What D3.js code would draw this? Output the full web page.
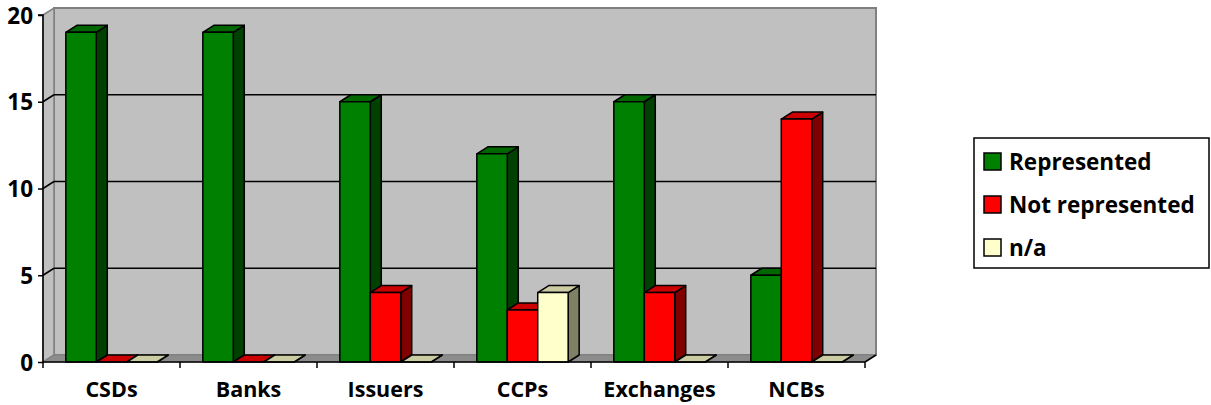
<!DOCTYPE html>
<html>
<head>
<meta charset="utf-8">
<script src="https://cdn.jsdelivr.net/npm/d3@7/dist/d3.min.js"></script>
<style>
  html, body { margin: 0; padding: 0; background: #fff; }
  svg { display: block; }
  text { font-family: "Open Sans", "Lato", sans-serif; font-weight: 700; fill: #000; }
</style>
</head>
<body>
<svg id="chart" width="1211" height="405"></svg>
<script>
const categories = ["CSDs", "Banks", "Issuers", "CCPs", "Exchanges", "NCBs"];
const seriesNames = ["Represented", "Not represented", "n/a"];
const represented = [19, 19, 15, 12, 15, 5];
const notRepresented = [0, 0, 4, 3, 4, 14];
const na = [0, 0, 0, 4, 0, 0];
const yTicks = [0, 5, 10, 15, 20];

(function () {
const seriesValues = [represented, notRepresented, na];
const colors = [
  { front: "#008000", top: "#006600", side: "#004000" },
  { front: "#FF0000", top: "#CC0000", side: "#800000" },
  { front: "#FFFFCC", top: "#CCCCA3", side: "#808066" }
];

const svg = d3.select("#chart");
const dx = 11, dy = -7;
const pLeft = 43, pRight = 865, pTop = 15, pBottom = 362;
const fontSize = "22.5px";

const x0 = d3.scaleBand().domain(categories).range([pLeft, pRight]).padding(0);
const bw = x0.bandwidth();
const gap = bw / 3;
const x1 = d3.scaleBand().domain(seriesNames).range([gap / 2, bw - gap / 2]).padding(0);
const y = d3.scaleLinear().domain([0, 20]).range([pBottom, pTop]);

// back wall
svg.append("rect")
  .attr("x", pLeft + dx).attr("y", y(20) + dy)
  .attr("width", pRight - pLeft).attr("height", y(0) - y(20))
  .attr("fill", "#C0C0C0").attr("stroke", "#808080").attr("stroke-width", 2);

// left wall
svg.append("polygon")
  .attr("points", [[pLeft, y(20)], [pLeft + dx, y(20) + dy], [pLeft + dx, y(0) + dy], [pLeft, y(0)]].join(" "))
  .attr("fill", "#C0C0C0").attr("stroke", "#808080").attr("stroke-width", 1.5);

// gridlines
const grid = yTicks.filter(v => v > 0 && v < 20);
grid.forEach(v => {
  svg.append("line")
    .attr("x1", pLeft + dx).attr("x2", pRight + dx)
    .attr("y1", y(v) + dy).attr("y2", y(v) + dy)
    .attr("stroke", "#000").attr("stroke-width", 1.5);
  svg.append("line")
    .attr("x1", pLeft).attr("x2", pLeft + dx)
    .attr("y1", y(v)).attr("y2", y(v) + dy)
    .attr("stroke", "#000").attr("stroke-width", 1.5);
});

// floor
svg.append("polygon")
  .attr("points", [[pLeft, y(0)], [pRight, y(0)], [pRight + dx, y(0) + dy], [pLeft + dx, y(0) + dy]].join(" "))
  .attr("fill", "#8C8C8C").attr("stroke", "#808080").attr("stroke-width", 1);
svg.append("line")
  .attr("x1", pRight).attr("y1", y(0)).attr("x2", pRight + dx).attr("y2", y(0) + dy)
  .attr("stroke", "#000").attr("stroke-width", 1.5);

// bars
const barG = svg.append("g");
categories.forEach((c, ci) => {
  seriesNames.forEach((s, si) => {
    const v = seriesValues[si][ci];
    const xa = x0(c) + x1(s);
    const w = x1.bandwidth();
    const yt = y(v), yb = y(0);
    const col = colors[si];
    const g = barG.append("g").attr("stroke", "#000").attr("stroke-width", 1.5).attr("stroke-linejoin", "round");
    g.append("polygon")
      .attr("points", [[xa + w, yt], [xa + w + dx, yt + dy], [xa + w + dx, yb + dy], [xa + w, yb]].join(" "))
      .attr("fill", col.side);
    g.append("polygon")
      .attr("points", [[xa, yt], [xa + dx, yt + dy], [xa + w + dx, yt + dy], [xa + w, yt]].join(" "))
      .attr("fill", col.top);
    g.append("rect")
      .attr("x", xa).attr("y", yt).attr("width", w).attr("height", yb - yt)
      .attr("fill", col.front);
  });
});

// y axis
const yAxis = d3.axisLeft(y).tickValues(yTicks).tickSize(5).tickPadding(5).tickFormat(d3.format("d"));
const yg = svg.append("g").attr("transform", `translate(${pLeft},0)`).call(yAxis);
yg.select(".domain").attr("stroke", "#000").attr("stroke-width", 1.5).attr("d", `M-5,${y(20)}H0V${y(0)}`);
yg.selectAll(".tick line").attr("stroke", "#000").attr("stroke-width", 1.5);
yg.selectAll(".tick text").style("font-size", fontSize).style("font-family", "'Open Sans', sans-serif").style("font-weight", 700).attr("fill", "#000").attr("dy", "0.36em");

// x axis
const xg = svg.append("g").attr("transform", `translate(0,${y(0)})`);
xg.append("line").attr("x1", pLeft).attr("x2", pRight).attr("y1", 0).attr("y2", 0)
  .attr("stroke", "#000").attr("stroke-width", 1.5);
const boundaries = categories.map(c => x0(c)).concat([pRight]);
xg.selectAll("line.tk").data(boundaries).enter().append("line").attr("class", "tk")
  .attr("x1", d => d).attr("x2", d => d).attr("y1", 0).attr("y2", 6)
  .attr("stroke", "#000").attr("stroke-width", 1.5);
xg.selectAll("text").data(categories).enter().append("text")
  .attr("x", d => x0(d) + bw / 2).attr("y", 35)
  .attr("text-anchor", "middle").style("font-size", "21.5px")
  .text(d => d);

// legend
const lg = svg.append("g");
lg.append("rect").attr("x", 974).attr("y", 138).attr("width", 235).attr("height", 130)
  .attr("fill", "#fff").attr("stroke", "#000").attr("stroke-width", 1.5);
seriesNames.forEach((s, i) => {
  const cy = 162 + i * 43;
  lg.append("rect").attr("x", 984).attr("y", cy - 9).attr("width", 17).attr("height", 17)
    .attr("fill", colors[i].front).attr("stroke", "#000").attr("stroke-width", 1.5);
  lg.append("text").attr("x", 1009).attr("y", cy).attr("dy", "0.35em")
    .style("font-size", fontSize).text(s);
});
})();
</script>
</body>
</html>
